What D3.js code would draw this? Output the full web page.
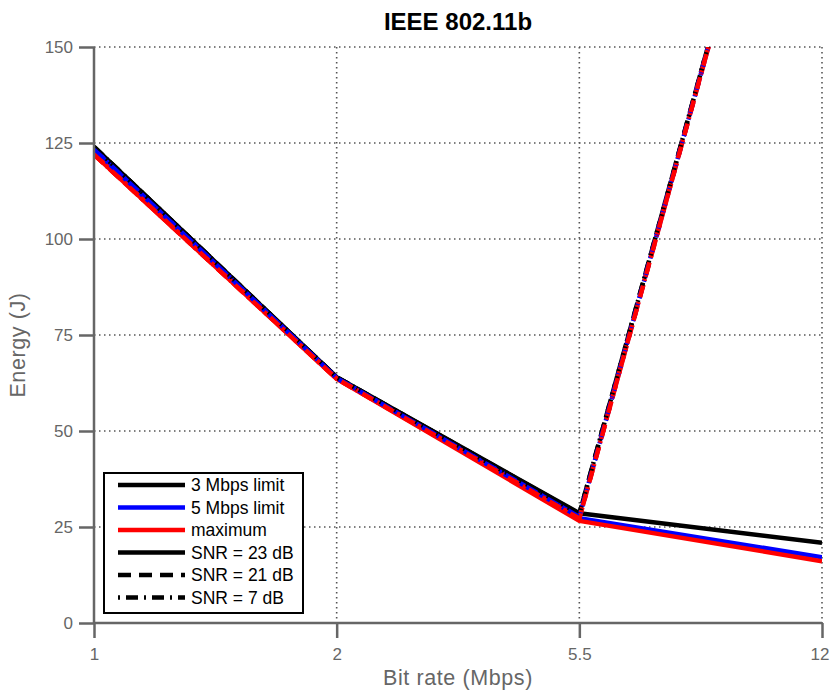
<!DOCTYPE html>
<html><head><meta charset="utf-8">
<script src="https://cdn.jsdelivr.net/npm/d3@7"></script>
<style>body{margin:0;background:#fff}svg{display:block}</style>
</head><body>
<script>
const categories = ["1","2","5.5","12"];
const yTicks = [0,25,50,75,100,125,150];
// SNR = 23 dB (solid)
const limit3_23 = [124.0, 64.0, 28.6, 20.9];
const limit5_23 = [123.3, 63.8, 27.3, 17.1];
const max_23    = [122.0, 63.6, 26.6, 16.1];
// SNR = 21 dB (dashed)
const limit3_21 = [124.0, 64.0, 28.4, 258];
const limit5_21 = [123.3, 63.8, 27.6, 258];
const max_21    = [122.0, 63.6, 27.2, 258];
// SNR = 7 dB (dash-dot)
const limit3_7 = [124.0, 64.0, 28.4, 258];
const limit5_7 = [123.3, 63.8, 27.6, 258];
const max_7    = [122.0, 63.6, 27.2, 258];
const legendLabels = ["3 Mbps limit","5 Mbps limit","maximum","SNR = 23 dB","SNR = 21 dB","SNR = 7 dB"];

const W=830,H=691;
const svg=d3.select("body").append("svg").attr("width",W).attr("height",H);
const x=d3.scalePoint().domain(categories).range([94,822]);
const y=d3.scaleLinear().domain([0,150]).range([623,47]);
const gray="#666";
const font="Liberation Sans, Arial, sans-serif";

// grid
const grid=svg.append("g");
yTicks.filter(v=>v>0).forEach(v=>{
  grid.append("line").attr("x1",94).attr("x2",822).attr("y1",y(v)).attr("y2",y(v))
   .attr("stroke","#555").attr("stroke-width",1.6).attr("stroke-dasharray","1.5,3.5");
});
categories.slice(1).forEach(c=>{
  grid.append("line").attr("x1",x(c)).attr("x2",x(c)).attr("y1",47).attr("y2",623)
   .attr("stroke","#555").attr("stroke-width",1.6).attr("stroke-dasharray","1.5,3.5");
});

svg.append("defs").append("clipPath").attr("id","clip").append("rect")
  .attr("x",94).attr("y",47).attr("width",728).attr("height",576);

const series=[
  {v:limit3_23,c:"#000",d:null},
  {v:limit5_23,c:"#0000ff",d:null},
  {v:max_23,c:"#ff0000",d:null},
  {v:limit3_21,c:"#000",d:"13,8"},
  {v:limit5_21,c:"#0000ff",d:"13,8"},
  {v:max_21,c:"#ff0000",d:"13,8"},
  {v:limit3_7,c:"#000",d:"12,5,2,5"},
  {v:limit5_7,c:"#0000ff",d:"12,5,2,5"},
  {v:max_7,c:"#ff0000",d:"12,5,2,5"}
];
const line=d3.line().x((d,i)=>x(categories[i])).y(d=>y(d));
const lg=svg.append("g").attr("clip-path","url(#clip)");
series.forEach(s=>{
  lg.append("path").attr("d",line(s.v)).attr("fill","none").attr("stroke",s.c)
    .attr("stroke-width",4.5).attr("stroke-dasharray",s.d).attr("stroke-linejoin","round");
});

// axes
const ax=d3.axisBottom(x).tickSize(15).tickPadding(10);
const gx=svg.append("g").attr("transform","translate(0,623)").call(ax);
gx.select(".domain").attr("stroke",gray).attr("stroke-width",2.5).attr("d","M94,0H822");
gx.selectAll(".tick line").attr("stroke",gray).attr("stroke-width",2.5);
gx.selectAll("text").attr("fill",gray).attr("font-family",font).attr("font-size",17)
  .attr("text-anchor",d=>d==="12"?"end":"middle").attr("dx",d=>d==="12"?"7":"0");
const ay=d3.axisLeft(y).tickValues(yTicks).tickSize(15).tickPadding(6);
const gy=svg.append("g").attr("transform","translate(94,0)").call(ay);
gy.select(".domain").attr("stroke",gray).attr("stroke-width",2.5).attr("d","M0,47V623");
gy.selectAll(".tick line").attr("stroke",gray).attr("stroke-width",2.5);
gy.selectAll("text").attr("fill",gray).attr("font-family",font).attr("font-size",17);

// labels
svg.append("text").attr("x",458).attr("y",30).attr("text-anchor","middle")
  .attr("font-family",font).attr("font-weight","bold").attr("font-size",24).text("IEEE 802.11b");
svg.append("text").attr("x",458).attr("y",685).attr("text-anchor","middle").attr("fill",gray)
  .attr("font-family",font).attr("font-size",21.5).attr("letter-spacing",0.6).text("Bit rate (Mbps)");
svg.append("text").attr("transform","translate(25,345) rotate(-90)").attr("text-anchor","middle").attr("fill",gray)
  .attr("font-family",font).attr("font-size",21.5).attr("letter-spacing",0.6).text("Energy (J)");

// legend
const leg=svg.append("g");
leg.append("rect").attr("x",104).attr("y",473).attr("width",199).attr("height",140)
  .attr("fill","#fff").attr("stroke","#000").attr("stroke-width",2);
const legStyles=[{c:"#000",d:null},{c:"#0000ff",d:null},{c:"#ff0000",d:null},{c:"#000",d:null},{c:"#000",d:"13,8"},{c:"#000",d:"2,6,12,6"}];
legendLabels.forEach((t,i)=>{
  const yy=485+i*22.5;
  leg.append("line").attr("x1",118).attr("x2",185).attr("y1",yy).attr("y2",yy)
    .attr("stroke",legStyles[i].c).attr("stroke-width",4.5).attr("stroke-dasharray",legStyles[i].d);
  leg.append("text").attr("x",191).attr("y",yy+6).attr("font-family",font)
    .attr("font-size",17.5).text(t);
});
</script>
</body></html>
